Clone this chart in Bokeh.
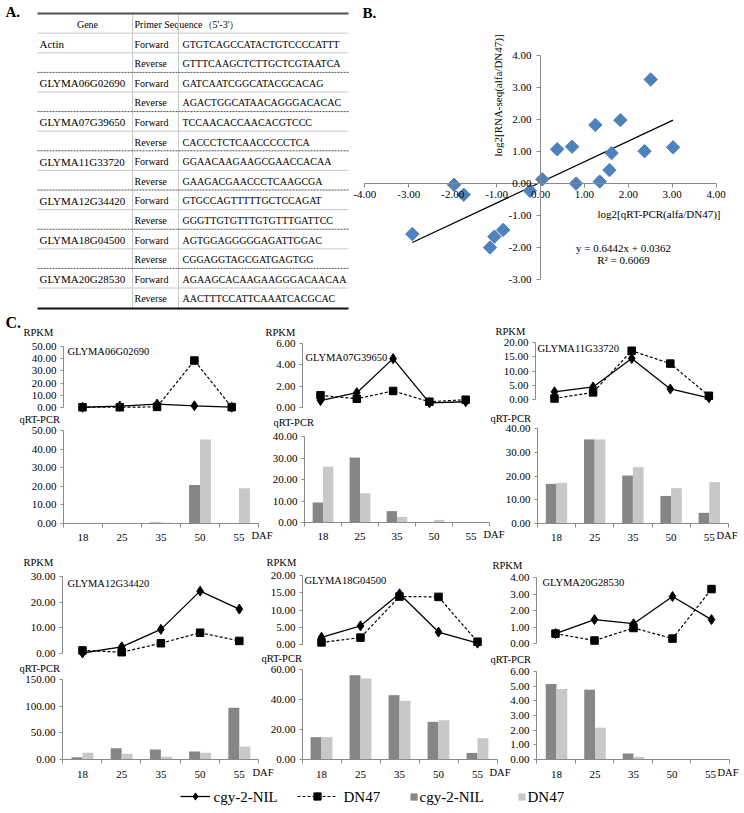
import numpy as np
from bokeh.plotting import figure
from bokeh.models import (Range1d, FixedTicker, NumeralTickFormatter, Label,
                          LinearAxis, ColumnDataSource, Legend, LegendItem)
from bokeh.embed import file_html
from bokeh.resources import INLINE
from bokeh.core.properties import value
from bokeh.transform import dodge

FONT = "Liberation Serif"
AXIS_GREY = "#8a8a8a"
DARK = "#868686"
LIGHT = "#c8c8c8"
BLUE = "#4f81bd"

# ---------------- data ----------------
table_genes = ["Actin", "GLYMA06G02690", "GLYMA07G39650", "GLYMA11G33720",
               "GLYMA12G34420", "GLYMA18G04500", "GLYMA20G28530"]
primer_forward = ["GTGTCAGCCATACTGTCCCCATTT", "GATCAATCGGCATACGCACAG",
                  "TCCAACACCAACACGTCCC", "GGAACAAGAAGCGAACCACAA",
                  "GTGCCAGTTTTTGCTCCAGAT", "AGTGGAGGGGGAGATTGGAC",
                  "AGAAGCACAAGAAGGGACAACAA"]
primer_reverse = ["GTTTCAAGCTCTTGCTCGTAATCA", "AGACTGGCATAACAGGGACACAC",
                  "CACCCTCTCAACCCCCTCA", "GAAGACGAACCCTCAAGCGA",
                  "GGGTTGTGTTTGTGTTTGATTCC", "CGGAGGTAGCGATGAGTGG",
                  "AACTTTCCATTCAAATCACGCAC"]
table_header = ["Gene", "Primer Sequence（5'-3'）"]
primer_dirs = ["Forward", "Reverse"]

# panel B
qrt_log2 = [-2.92, -1.97, -1.75, -1.15, -1.05, -0.85, -0.24, 0.04, 0.38, 0.72,
            0.81, 1.25, 1.35, 1.57, 1.62, 1.82, 2.37, 2.51, 3.02]
rnaseq_log2 = [-1.58, -0.04, -0.35, -2.00, -1.66, -1.45, -0.23, 0.13, 1.07, 1.15,
               0.00, 1.83, 0.06, 0.42, 0.95, 1.98, 1.01, 3.25, 1.13]
fit_slope = 0.6442
fit_intercept = 0.0362
fit_r2 = 0.6069
scatter_xticks = [-4, -3, -2, -1, 0, 1, 2, 3, 4]
scatter_yticks = [-3, -2, -1, 0, 1, 2, 3, 4]

# panel C
days = ["18", "25", "35", "50", "55"]
series_names = ["cgy-2-NIL", "DN47"]
gene_ids = ["GLYMA06G02690", "GLYMA07G39650", "GLYMA11G33720",
            "GLYMA12G34420", "GLYMA18G04500", "GLYMA20G28530"]

rpkm_nil_06 = [0.2, 1.2, 2.8, 1.4, 0.3]
rpkm_dn47_06 = [0.2, 0.2, 0.5, 38.5, 0.3]
qpcr_nil_06 = [0.0, 0.0, 0.6, 20.7, 0.0]
qpcr_dn47_06 = [0.0, 0.0, 0.4, 45.1, 18.9]
rpkm_ticks_06 = [0, 10, 20, 30, 40, 50]
qpcr_ticks_06 = [0, 10, 20, 30, 40, 50]

rpkm_nil_07 = [0.65, 1.39, 4.58, 0.44, 0.54]
rpkm_dn47_07 = [1.14, 0.82, 1.55, 0.54, 0.73]
qpcr_nil_07 = [9.3, 30.2, 5.3, 0.0, 0.0]
qpcr_dn47_07 = [26.0, 13.6, 2.6, 1.2, 0.0]
rpkm_ticks_07 = [0, 2, 4, 6]
qpcr_ticks_07 = [0, 10, 20, 30, 40]

rpkm_nil_11 = [2.7, 4.4, 14.4, 3.7, 0.6]
rpkm_dn47_11 = [0.35, 2.5, 17.1, 12.6, 1.3]
qpcr_nil_11 = [16.7, 35.4, 20.2, 11.6, 4.5]
qpcr_dn47_11 = [17.1, 35.4, 23.7, 14.9, 17.4]
rpkm_ticks_11 = [0, 5, 10, 15, 20]
qpcr_ticks_11 = [0, 10, 20, 30, 40]

rpkm_nil_12 = [0.2, 2.6, 9.4, 24.3, 17.3]
rpkm_dn47_12 = [1.2, 0.5, 4.0, 8.1, 4.9]
qpcr_nil_12 = [4.4, 21.2, 18.8, 15.0, 96.9]
qpcr_dn47_12 = [12.5, 10.6, 5.0, 12.5, 24.4]
rpkm_ticks_12 = [0, 10, 20, 30]
qpcr_ticks_12 = [0, 50, 100, 150]

rpkm_nil_18 = [2.1, 5.4, 14.7, 3.6, 0.4]
rpkm_dn47_18 = [0.6, 2.0, 13.9, 13.8, 0.8]
qpcr_nil_18 = [14.9, 56.2, 42.9, 25.1, 4.4]
qpcr_dn47_18 = [14.9, 54.0, 39.1, 26.2, 14.2]
rpkm_ticks_18 = [0, 5, 10, 15, 20]
qpcr_ticks_18 = [0, 20, 40, 60]

rpkm_nil_20 = [0.6, 1.45, 1.2, 2.85, 1.45]
rpkm_dn47_20 = [0.6, 0.18, 0.94, 0.3, 3.3]
qpcr_nil_20 = [5.15, 4.76, 0.41, 0.0, 0.0]
qpcr_dn47_20 = [4.81, 2.17, 0.18, 0.0, 0.0]
rpkm_ticks_20 = [0, 1, 2, 3, 4]
qpcr_ticks_20 = [0, 1, 2, 3, 4, 5, 6]

# ---------------- canvas ----------------
W, H = 740, 808
p = figure(width=W, height=H, x_range=Range1d(0, W), y_range=Range1d(H, 0),
           output_backend="svg", toolbar_location=None, title=None,
           x_axis_type=None, y_axis_type=None,
           min_border_left=0, min_border_right=0, min_border_top=0, min_border_bottom=0,
           background_fill_color="white", border_fill_color="white",
           outline_line_color=None)

xranges, yranges = {}, {}


def x_scale(name, px0, ppu):
    """value 0 sits at pixel px0; ppu pixels per unit (rightwards)."""
    xranges[name] = Range1d(start=-px0 / ppu, end=(W - px0) / ppu)


def y_scale(name, px0, ppu):
    """value 0 sits at pixel px0 (from top); ppu pixels per unit (upwards)."""
    yranges[name] = Range1d(start=(px0 - H) / ppu, end=px0 / ppu)


def label(x, y, text, size="11px", align="left", bold=False, angle=0.0):
    p.add_layout(Label(x=x, y=y, text=text, text_font=FONT, text_font_size=size,
                       text_align=align, text_baseline="middle",
                       text_font_style="bold" if bold else "normal",
                       angle=angle, text_color="black"))


def style_axis(ax, tick_out=3, standoff=4):
    ax.axis_line_color = AXIS_GREY
    ax.axis_line_width = 1
    ax.major_tick_line_color = AXIS_GREY
    ax.minor_tick_line_color = AXIS_GREY
    ax.major_tick_in = 0
    ax.major_tick_out = tick_out
    ax.minor_tick_in = 0
    ax.minor_tick_out = 0
    ax.major_label_text_font = FONT
    ax.major_label_text_font_size = "11px"
    ax.major_label_text_color = "black"
    ax.major_label_standoff = standoff


# ---------------- panel A: table ----------------
ROW0, ROWH = 32.7, 19.6
col_gene, col_dir, col_seq = [], [], []
for g, f, r in zip(table_genes, primer_forward, primer_reverse):
    col_gene += [g, ""]
    col_dir += primer_dirs
    col_seq += [f, r]
n_rows = len(col_gene)
row_y = [ROW0 + ROWH * (i + 0.5) + 1 for i in range(n_rows)]
tsrc = ColumnDataSource(dict(y=row_y, gene=col_gene, dir=col_dir, seq=col_seq))
common = dict(text_font=value(FONT), text_baseline="middle", text_color="black")
p.text(x=39, y="y", text="gene", source=tsrc, text_font_size="11px", **common)
p.text(x=134, y="y", text="dir", source=tsrc, text_font_size="10px", **common)
p.text(x=182, y="y", text="seq", source=tsrc, text_font_size="10px", **common)
p.text(x=[87, 134], y=[23.5, 23.5], text=table_header, text_align=["center", "left"],
       text_font_size="10px", **common)
p.segment(x0=[132, 178], x1=[132, 178], y0=13, y1=308, line_color="#c8c8c8", line_width=1)
thin_y = [ROW0] + [ROW0 + ROWH * (2 * k + 1) for k in range(len(table_genes))]
p.segment(x0=37, x1=348, y0=thin_y, y1=thin_y, line_color="#c8c8c8", line_width=1)
dash_y = [ROW0 + ROWH * (2 * k + 2) for k in range(len(table_genes) - 1)]
p.segment(x0=37, x1=348, y0=dash_y, y1=dash_y, line_color="#505050", line_width=1,
          line_dash="2 1")
p.segment(x0=37, x1=348, y0=[13], y1=[13], line_color="#505050", line_width=2)
p.segment(x0=37, x1=348, y0=[308], y1=[308], line_color="#111111", line_width=2)
label(5, 11, "A.", size="15px", bold=True)

# ---------------- panel B: scatter ----------------
x_scale("sx", 540, 43.9)
y_scale("sy", 183, 32.0)
xax = LinearAxis(x_range_name="sx", y_range_name="sy", fixed_location=0, bounds=(-4, 4),
                 ticker=FixedTicker(ticks=scatter_xticks),
                 formatter=NumeralTickFormatter(format="0.00"))
style_axis(xax, tick_out=4, standoff=3)
p.add_layout(xax, "below")
yax = LinearAxis(x_range_name="sx", y_range_name="sy", fixed_location=0, bounds=(-3, 4),
                 ticker=FixedTicker(ticks=scatter_yticks),
                 formatter=NumeralTickFormatter(format="0.00"))
style_axis(yax, tick_out=4, standoff=5)
p.add_layout(yax, "left")
fit_x = [min(qrt_log2), max(qrt_log2)]
fit_y = [fit_slope * v + fit_intercept for v in fit_x]
p.line(fit_x, fit_y, line_color="black", line_width=1.3,
       x_range_name="sx", y_range_name="sy")
p.scatter(qrt_log2, rnaseq_log2, marker="square", angle=np.pi / 4, size=9.5,
          fill_color=BLUE, line_color=BLUE, x_range_name="sx", y_range_name="sy")
label(362, 12, "B.", size="15px", bold=True)
label(497, 95, "log2[RNA-seq(alfa/DN47)]", align="center", angle=np.pi / 2)
label(720, 213, "log2[qRT-PCR(alfa/DN47)]", align="right")
label(623, 247, "y = %.4fx + %.4f" % (fit_slope, fit_intercept), align="center")
label(623, 259, "R² = %.4f" % fit_r2, align="center")

# ---------------- panel C ----------------
panels = [
    dict(gid=gene_ids[0], rn=rpkm_nil_06, rd=rpkm_dn47_06, qn=qpcr_nil_06, qd=qpcr_dn47_06,
         rt=rpkm_ticks_06, qt=qpcr_ticks_06,
         t_ax=63, t_c=(82, 37.3), t_py=(407, 346),
         b_ax=63, b_c=(82.5, 39), b_py=(523, 430),
         rpkm=(23, 332), gl=(67, 351), q=(19, 419), daf=(251, 535), std=6),
    dict(gid=gene_ids[1], rn=rpkm_nil_07, rd=rpkm_dn47_07, qn=qpcr_nil_07, qd=qpcr_dn47_07,
         rt=rpkm_ticks_07, qt=qpcr_ticks_07,
         t_ax=302, t_c=(320, 36.3), t_py=(407, 343),
         b_ax=304, b_c=(322.5, 37), b_py=(522, 436),
         rpkm=(265, 332), gl=(305, 357), q=(273, 422), daf=(483, 534), std=6),
    dict(gid=gene_ids[2], rn=rpkm_nil_11, rd=rpkm_dn47_11, qn=qpcr_nil_11, qd=qpcr_dn47_11,
         rt=rpkm_ticks_11, qt=qpcr_ticks_11,
         t_ax=535, t_c=(554, 38.6), t_py=(399, 342),
         b_ax=537, b_c=(556, 38.2), b_py=(523, 428),
         rpkm=(495, 331), gl=(537, 348), q=(490, 418), daf=(716, 535), std=6),
    dict(gid=gene_ids[3], rn=rpkm_nil_12, rd=rpkm_dn47_12, qn=qpcr_nil_12, qd=qpcr_dn47_12,
         rt=rpkm_ticks_12, qt=qpcr_ticks_12,
         t_ax=62, t_c=(82, 39.2), t_py=(653, 576),
         b_ax=62, b_c=(82, 39.2), b_py=(759, 679),
         rpkm=(23, 562), gl=(67, 583), q=(19, 668), daf=(252, 772), std=7),
    dict(gid=gene_ids[4], rn=rpkm_nil_18, rd=rpkm_dn47_18, qn=qpcr_nil_18, qd=qpcr_dn47_18,
         rt=rpkm_ticks_18, qt=qpcr_ticks_18,
         t_ax=302, t_c=(321, 39), t_py=(644, 575),
         b_ax=302, b_c=(321, 39), b_py=(759, 669),
         rpkm=(266, 562), gl=(304, 580), q=(261, 658), daf=(489, 772), std=7),
    dict(gid=gene_ids[5], rn=rpkm_nil_20, rd=rpkm_dn47_20, qn=qpcr_nil_20, qd=qpcr_dn47_20,
         rt=rpkm_ticks_20, qt=qpcr_ticks_20,
         t_ax=536, t_c=(555, 39), t_py=(643, 577),
         b_ax=536, b_c=(556, 38.5), b_py=(759, 671),
         rpkm=(492, 565), gl=(542, 582), q=(490, 659), daf=(717, 772), std=7),
]

BW = 0.28
xs_idx = list(range(len(days)))
legend_refs = {}
for k, cfg in enumerate(panels):
    tx, ty, bx, by = "tx%d" % k, "ty%d" % k, "bx%d" % k, "by%d" % k
    # ---- RPKM line chart ----
    c0, s = cfg["t_c"]
    x_scale(tx, c0, s)
    py0, pym = cfg["t_py"]
    tmax = cfg["rt"][-1]
    y_scale(ty, py0, (py0 - pym) / tmax)
    ax = LinearAxis(x_range_name=tx, y_range_name=ty, fixed_location=(cfg["t_ax"] - c0) / s,
                    bounds=(0, tmax), ticker=FixedTicker(ticks=cfg["rt"]),
                    formatter=NumeralTickFormatter(format="0.00"))
    style_axis(ax)
    p.add_layout(ax, "left")
    src = ColumnDataSource(dict(x=xs_idx, nil=cfg["rn"], dn=cfg["rd"]))
    rl_dn = p.line("x", "dn", source=src, line_color="black", line_width=1.2, line_dash="3 2",
                   x_range_name=tx, y_range_name=ty)
    rm_dn = p.scatter("x", "dn", source=src, marker="square", size=7.5, color="black",
                      x_range_name=tx, y_range_name=ty)
    rl_nil = p.line("x", "nil", source=src, line_color="black", line_width=1.3,
                    x_range_name=tx, y_range_name=ty)
    rm_nil = p.scatter("x", "nil", source=src, marker="diamond", size=10,
                       color="black", x_range_name=tx, y_range_name=ty)
    label(*cfg["rpkm"], "RPKM", size="10.5px")
    label(*cfg["gl"], cfg["gid"], size="10.5px")
    label(*cfg["q"], "qRT-PCR", size="10.5px")

    # ---- qRT-PCR bar chart ----
    c0b, sb = cfg["b_c"]
    x_scale(bx, c0b, sb)
    qy0, qym = cfg["b_py"]
    qmax = cfg["qt"][-1]
    y_scale(by, qy0, (qy0 - qym) / qmax)
    yax2 = LinearAxis(x_range_name=bx, y_range_name=by, fixed_location=(cfg["b_ax"] - c0b) / sb,
                      bounds=(0, qmax), ticker=FixedTicker(ticks=cfg["qt"]),
                      formatter=NumeralTickFormatter(format="0.00"))
    style_axis(yax2)
    p.add_layout(yax2, "left")
    x_lo = (cfg["b_ax"] - c0b) / sb
    xax2 = LinearAxis(x_range_name=bx, y_range_name=by, fixed_location=0,
                      bounds=(x_lo, x_lo + len(days)),
                      ticker=FixedTicker(ticks=xs_idx,
                                         minor_ticks=[x_lo + i for i in range(len(days) + 1)]),
                      major_label_overrides={i: d for i, d in enumerate(days)})
    style_axis(xax2, tick_out=0, standoff=cfg["std"])
    xax2.minor_tick_out = 4
    p.add_layout(xax2, "below")
    bsrc = ColumnDataSource(dict(x=xs_idx, nil=cfg["qn"], dn=cfg["qd"]))
    rb_nil = p.vbar(x=dodge("x", -BW / 2), top="nil", width=BW, source=bsrc,
                    fill_color=DARK, line_color=None, x_range_name=bx, y_range_name=by)
    rb_dn = p.vbar(x=dodge("x", BW / 2), top="dn", width=BW, source=bsrc,
                   fill_color=LIGHT, line_color=None, x_range_name=bx, y_range_name=by)
    label(*cfg["daf"], "DAF", size="10.5px")
    legend_refs = dict(nil_line=[rl_nil, rm_nil], dn_line=[rl_dn, rm_dn],
                       nil_bar=[rb_nil], dn_bar=[rb_dn])

label(5, 322, "C.", size="16px", bold=True)

p.extra_x_ranges = xranges
p.extra_y_ranges = yranges

# ---------------- legend (keys via Legend, names as labels) ----------------
LEG_Y = 796
legend_specs = [
    (series_names[0], legend_refs["nil_line"], 180, 30, 18, 213),
    (series_names[1], legend_refs["dn_line"], 297, 40, 18, 343),
    (series_names[0], legend_refs["nil_bar"], 409, 9, 9, 419),
    (series_names[1], legend_refs["dn_bar"], 517, 9, 9, 527),
]
for lab, rends, lx, gw, gh, tx_left in legend_specs:
    lg = Legend(items=[LegendItem(label=" ", renderers=rends)],
                location=(lx, H - LEG_Y - gh / 2), orientation="horizontal",
                glyph_width=gw, glyph_height=gh, label_height=gh, label_width=0,
                label_standoff=0, padding=0, margin=0, spacing=0,
                border_line_color=None, background_fill_alpha=0,
                label_text_font=FONT, label_text_font_size="1px")
    p.add_layout(lg)
    label(tx_left, LEG_Y, lab, size="15px")

open("out.html", "w").write(file_html(p, INLINE))
